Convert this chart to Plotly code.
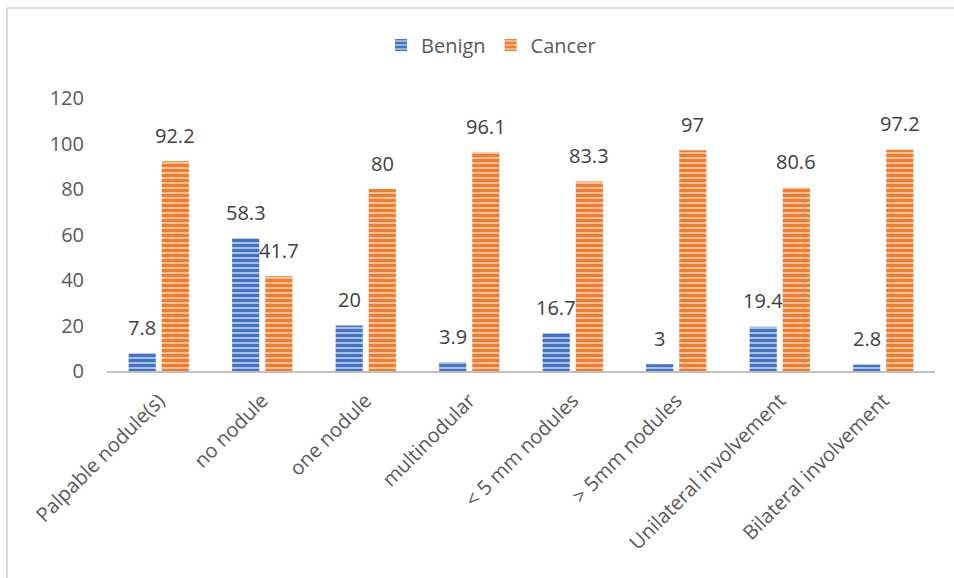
import plotly.graph_objects as go

categories = ["Palpable nodule(s)", "no nodule", "one nodule", "multinodular",
              "< 5 mm nodules", "> 5mm nodules", "Unilateral involvement", "Bilateral involvement"]
benign = [7.8, 58.3, 20, 3.9, 16.7, 3, 19.4, 2.8]
cancer = [92.2, 41.7, 80, 96.1, 83.3, 97, 80.6, 97.2]
y_ticks = [0, 20, 40, 60, 80, 100, 120]

FONT = "Open Sans, Liberation Sans, sans-serif"
FS = 20

def bar(name, vals, fg, bg):
    return go.Bar(
        name=name, x=categories, y=vals,
        cliponaxis=False,
        marker=dict(color=fg, line=dict(width=0),
                    pattern=dict(shape="-", fgcolor=fg, bgcolor=bg, size=5, solidity=0.6,
                                 fillmode="replace")),
    )

fig = go.Figure()
fig.add_trace(bar("Benign", benign, "#4472C4", "#A9BFE6"))
fig.add_trace(bar("Cancer", cancer, "#ED7D31", "#F7BE98"))

left, right, top, bottom = 107, 935, 98, 371
W, H = 954, 578
pw, ph = right - left, bottom - top

# data labels, centred above each bar of the group
annotations = []
for vals, dx in ((benign, -16.5), (cancer, 16.5)):
    for c, v in zip(categories, vals):
        annotations.append(dict(x=c, y=v, xref="x", yref="y", text=f"{v:g}", showarrow=False,
                                xshift=dx, yshift=26, yanchor="middle", xanchor="center",
                                font=dict(size=FS, color="#404040", family=FONT)))

fig.update_layout(
    width=W, height=H,
    margin=dict(l=left, r=W - right, t=top, b=H - bottom),
    paper_bgcolor="white", plot_bgcolor="white",
    barmode="group", bargap=0.36, bargroupgap=0.18,
    font=dict(family=FONT, color="#595959", size=FS),
    showlegend=True,
    legend=dict(orientation="h", x=(491 - left) / pw, xanchor="center", y=1 + (top - 45) / ph,
                yanchor="middle", font=dict(size=FS, color="#595959"), itemwidth=30,
                traceorder="normal"),
    xaxis=dict(tickangle=-45, showgrid=False, showline=True, linecolor="#BFBFBF", linewidth=2,
               ticks="", tickfont=dict(size=FS, color="#595959"), ticklabelstandoff=8),
    yaxis=dict(range=[0, 120], tickvals=y_ticks, showgrid=False, zeroline=False, showline=False,
               ticks="", tickfont=dict(size=FS, color="#595959"), ticklabelstandoff=22),
    annotations=annotations,
    shapes=[
        dict(type="line", xref="paper", yref="paper",
             x0=(7 - left) / pw, x1=(7 - left) / pw,
             y0=1 + (top - 8) / ph, y1=-(H - bottom) / ph,
             line=dict(color="#D9D9D9", width=2)),
        dict(type="line", xref="paper", yref="paper",
             x0=(7 - left) / pw, x1=(W - left) / pw,
             y0=1 + (top - 8) / ph, y1=1 + (top - 8) / ph,
             line=dict(color="#D9D9D9", width=2)),
    ],
)

fig.write_html("out.html")
